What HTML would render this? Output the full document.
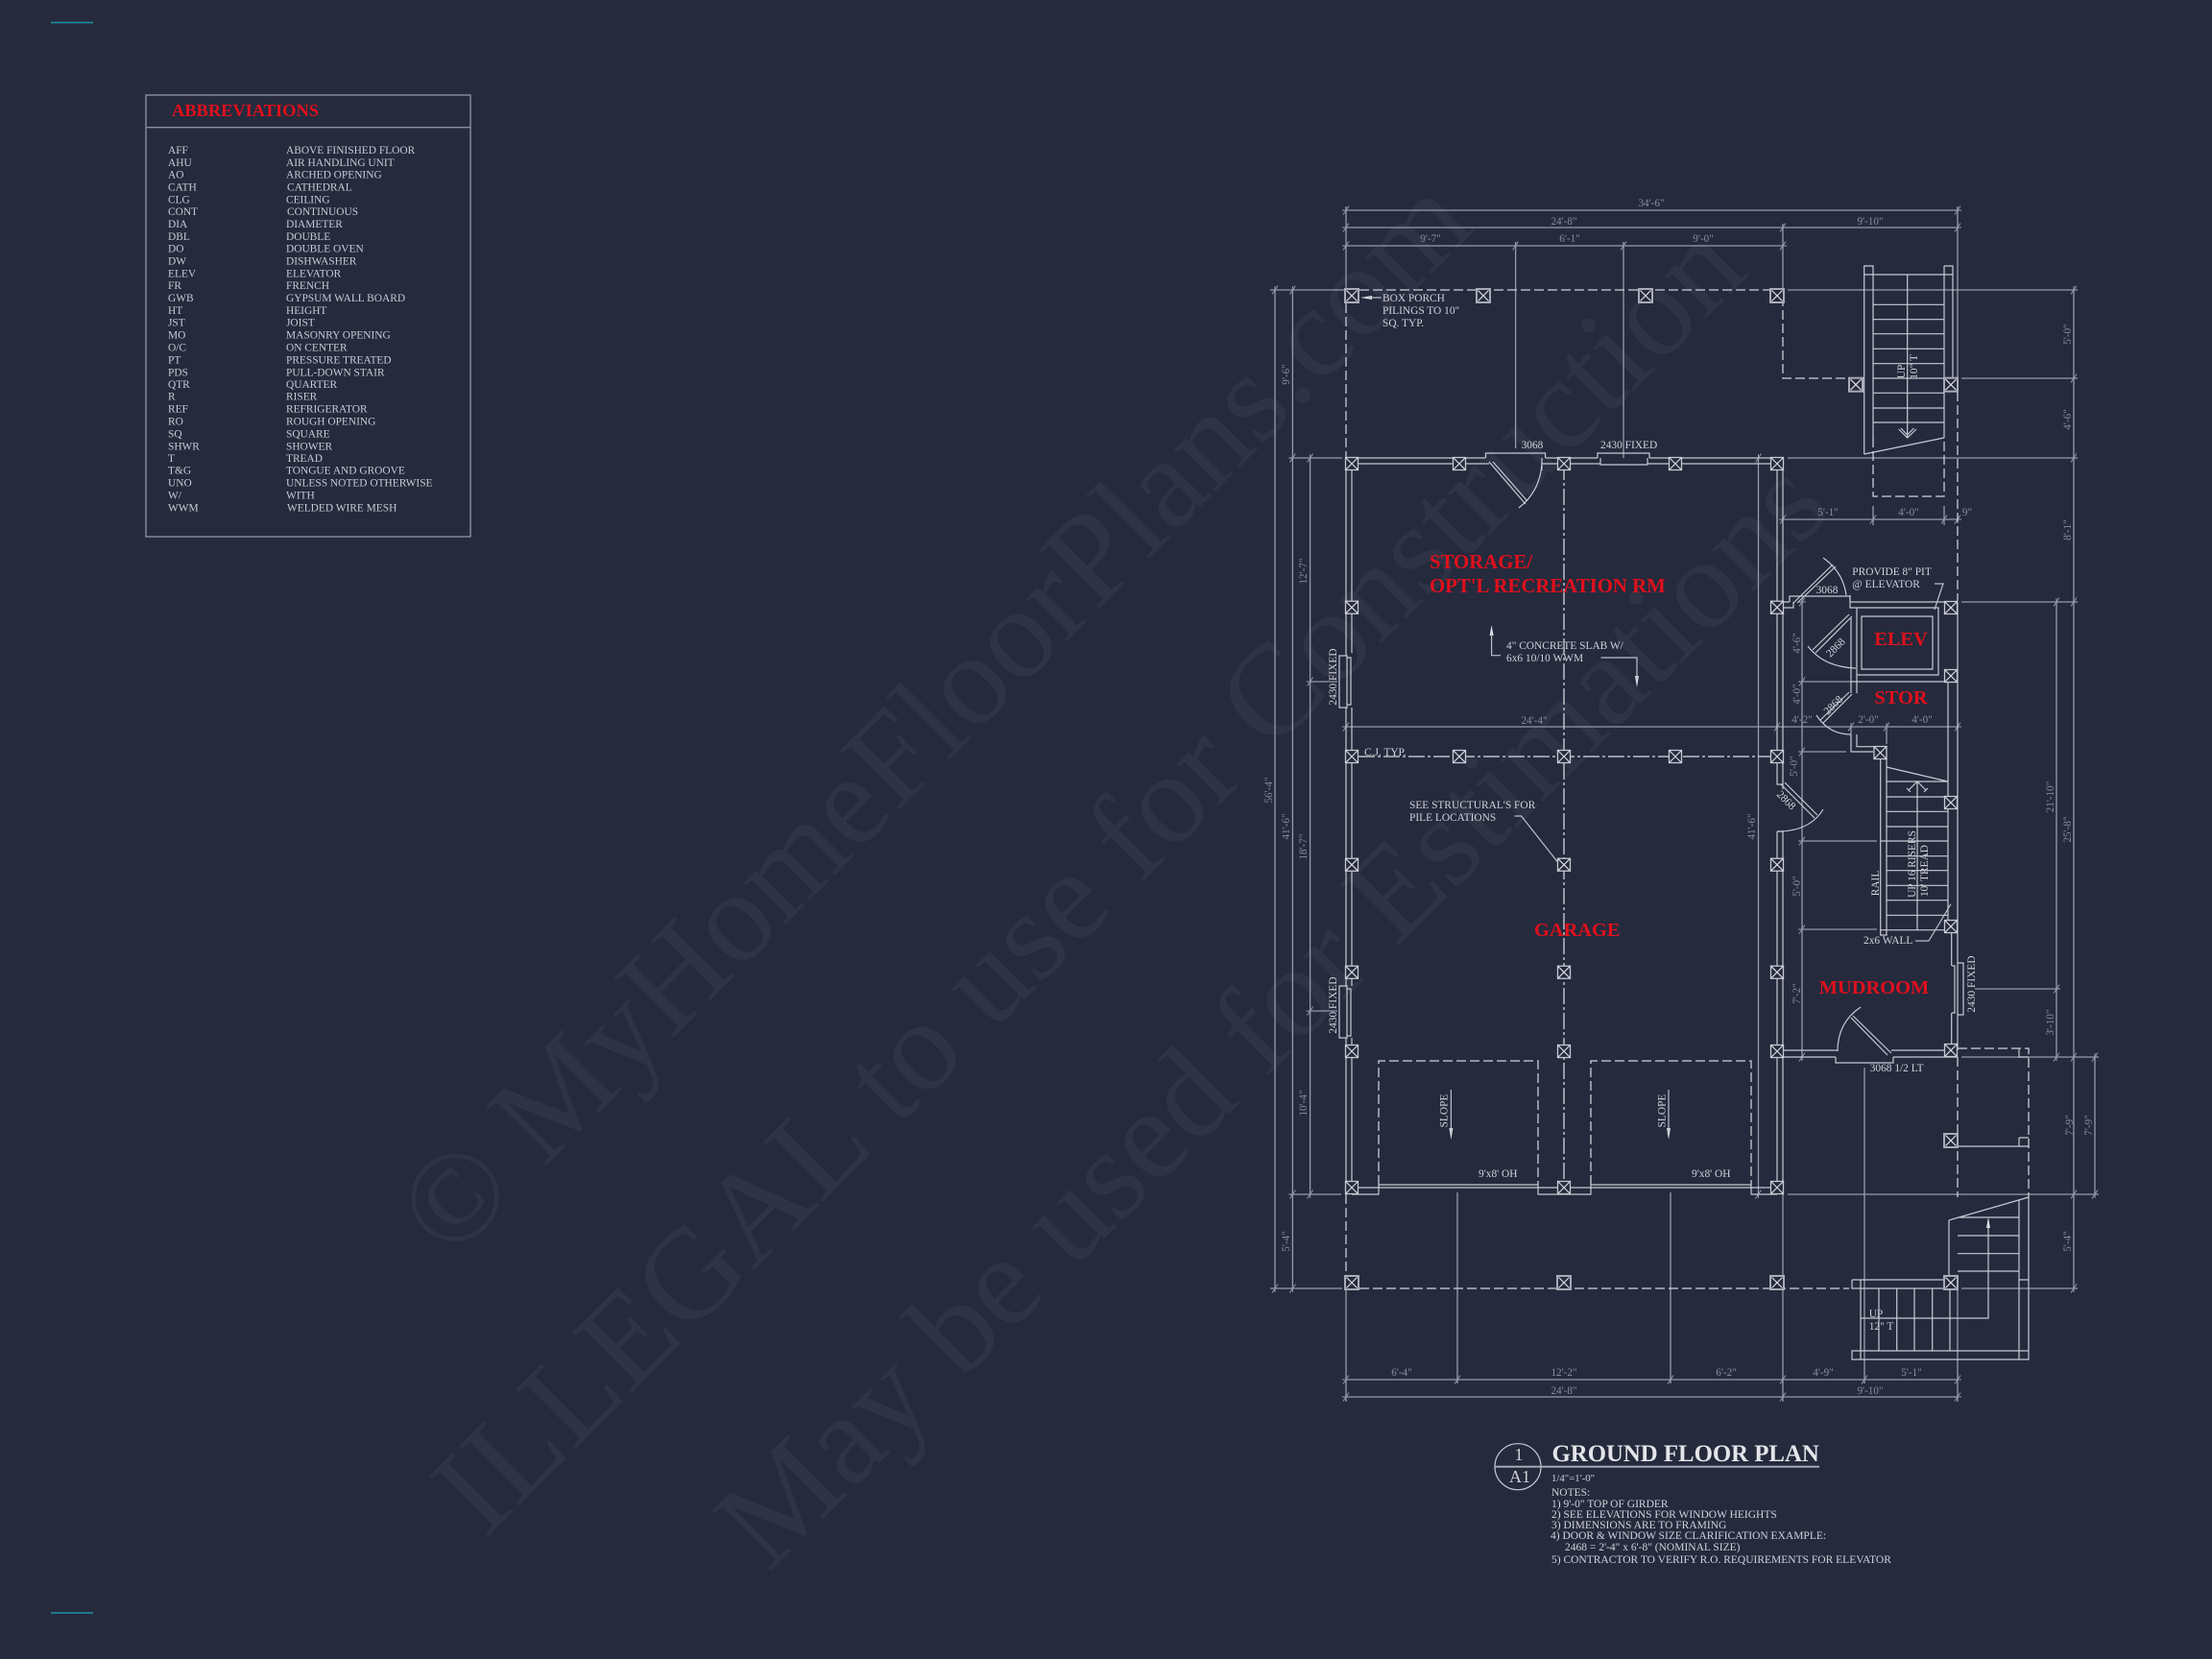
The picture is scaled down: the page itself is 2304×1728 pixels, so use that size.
<!DOCTYPE html>
<html><head><meta charset="utf-8"><title>Ground Floor Plan</title>
<style>
html,body{margin:0;padding:0;background:#252a3d}
svg{display:block}
text{font-family:"Liberation Serif",serif}
.wm{fill:#2f3346;font-size:134px}
.w{fill:none;stroke:#c8cad3;stroke-width:1.2}
.n{fill:none;stroke:#bdbfc9;stroke-width:1.2}
.d{fill:none;stroke:#989baa;stroke-width:1.3}
.da{fill:none;stroke:#d2d3da;stroke-width:1.25;stroke-dasharray:10 4}
.cl{fill:none;stroke:#dcdde3;stroke-width:1.25;stroke-dasharray:17 3 3 3}
.t{fill:#d2d3da;font-size:11.4px}
.dt{fill:#8a8d9a;font-size:11.2px;text-anchor:middle}
.r{fill:#e0101c;font-size:20.4px;font-weight:bold}
.c{text-anchor:middle}
.ab{fill:#c9cbd3;font-size:11.4px}
</style></head><body>
<svg xmlns="http://www.w3.org/2000/svg" width="2304" height="1728" viewBox="0 0 2304 1728">
<defs>
<g id="p"><rect x="-6.5" y="-6.5" width="13" height="13" fill="#252a3d" stroke="#c6c8d1" stroke-width="1.3"/><path d="M-6.5-6.5L6.5 6.5M6.5-6.5L-6.5 6.5" stroke="#d9dae0" stroke-width="1.2"/></g>
<g id="P"><rect x="-7" y="-7" width="14" height="14" fill="#252a3d" stroke="#a9abb7" stroke-width="2"/><path d="M-5.5-5.5L5.5 5.5M5.5-5.5L-5.5 5.5" stroke="#e0e1e6" stroke-width="1.2"/></g>
<path id="t" d="M-3 4.5L3-4.5M0-4V4M-4 0H4" stroke="#989baa" stroke-width="1" fill="none"/>
</defs>
<rect width="2304" height="1728" fill="#252a3d"/>

<!-- watermark -->
<text class="wm" transform="translate(468.7 1315) rotate(-45.2)" textLength="1518" lengthAdjust="spacingAndGlyphs">© MyHomeFloorPlans.com</text>
<text class="wm" transform="translate(505 1603.6) rotate(-45)" textLength="1864" lengthAdjust="spacingAndGlyphs">ILLEGAL to use for Construction</text>
<text class="wm" transform="translate(800 1639) rotate(-44.9)" textLength="1567" lengthAdjust="spacingAndGlyphs">May be used for Estimations</text>

<!-- teal marks -->
<path d="M53 23.5H97M53 1680H97" stroke="#1c95a0" stroke-width="1.4" fill="none"/>

<!-- abbreviations -->
<rect x="152" y="99" width="338" height="460" fill="none" stroke="#8b8ea0" stroke-width="1.4"/>
<path d="M152 132.7H490" stroke="#8b8ea0" stroke-width="1.4"/>
<text x="179" y="121" fill="#e0101c" font-size="18.4" font-weight="bold">ABBREVIATIONS</text>
<g class="ab">
<text x="175" y="160">AFF</text><text x="298" y="160">ABOVE FINISHED FLOOR</text>
<text x="175" y="172.8">AHU</text><text x="298" y="172.8">AIR HANDLING UNIT</text>
<text x="175" y="185.3">AO</text><text x="298" y="185.3">ARCHED OPENING</text>
<text x="175" y="198.3">CATH</text><text x="299" y="198.3">CATHEDRAL</text>
<text x="175" y="211.3">CLG</text><text x="298" y="211.3">CEILING</text>
<text x="175" y="224.2">CONT</text><text x="299" y="224.2">CONTINUOUS</text>
<text x="175" y="237">DIA</text><text x="298" y="237">DIAMETER</text>
<text x="175" y="250">DBL</text><text x="298" y="250">DOUBLE</text>
<text x="175" y="262.5">DO</text><text x="298" y="262.5">DOUBLE OVEN</text>
<text x="175" y="275.3">DW</text><text x="298" y="275.3">DISHWASHER</text>
<text x="175" y="288.3">ELEV</text><text x="298" y="288.3">ELEVATOR</text>
<text x="175" y="301.2">FR</text><text x="298" y="301.2">FRENCH</text>
<text x="175" y="314">GWB</text><text x="298" y="314">GYPSUM WALL BOARD</text>
<text x="175" y="327">HT</text><text x="298" y="327">HEIGHT</text>
<text x="175" y="339.5">JST</text><text x="298" y="339.5">JOIST</text>
<text x="175" y="352.5">MO</text><text x="298" y="352.5">MASONRY OPENING</text>
<text x="175" y="365.5">O/C</text><text x="298" y="365.5">ON CENTER</text>
<text x="175" y="378.3">PT</text><text x="298" y="378.3">PRESSURE TREATED</text>
<text x="175" y="391.3">PDS</text><text x="298" y="391.3">PULL-DOWN STAIR</text>
<text x="175" y="404.2">QTR</text><text x="298" y="404.2">QUARTER</text>
<text x="175" y="416.7">R</text><text x="298" y="416.7">RISER</text>
<text x="175" y="429.5">REF</text><text x="298" y="429.5">REFRIGERATOR</text>
<text x="175" y="442.5">RO</text><text x="298" y="442.5">ROUGH OPENING</text>
<text x="175" y="455.3">SQ</text><text x="298" y="455.3">SQUARE</text>
<text x="175" y="468.3">SHWR</text><text x="298" y="468.3">SHOWER</text>
<text x="175" y="481.2">T</text><text x="298" y="481.2">TREAD</text>
<text x="175" y="493.7">T&amp;G</text><text x="298" y="493.7">TONGUE AND GROOVE</text>
<text x="175" y="506.5">UNO</text><text x="298" y="506.5">UNLESS NOTED OTHERWISE</text>
<text x="175" y="519.5">W/</text><text x="298" y="519.5">WITH</text>
<text x="175" y="532.5">WWM</text><text x="299" y="532.5">WELDED WIRE MESH</text>
</g>

<!-- dimension lines -->
<path class="d" d="M1402 219H2039M1402 237H2039M1402 256H1857
M1402 1437H2039M1402 1455H2039
M1328 302V1342M1346.4 302V1342M1364.6 477V1244
M2160 302V1342M2142 627V1101M2182 1101V1244M1831.5 477V1244M1877 627V1101
M1857 541H2039M1402 757H2039"/>
<!-- extension lines -->
<path class="d" d="M1402 215V302M1578.6 252V467M1691 252V477M1857 233V302M2039 215V394
M1323 302H1400M1343 477H1398M1364.6 710H1393M1364.6 1053H1393M1343 1244H1397M1323 1342H1398
M1862 302H2164M2043 394H2164M1862 477H2164M2043 627H2164M2057 1030H2145M2043 1101H2186M1862 1244H2186M2043 1342H2164
M1951 527V547M2025 527V547M1965 757V775M1928 757V765
M1877 710H1928M1877 783H1923M1877 876H1955M1877 968H1955
M1402 1342V1460M1518 1242V1441M1740 1242V1441M1857 1244V1460M1942 1112V1441M2039 1342V1460"/>
<!-- ticks -->
<g>
<use href="#t" x="1402" y="219"/><use href="#t" x="2039" y="219"/>
<use href="#t" x="1402" y="237"/><use href="#t" x="1857" y="237"/><use href="#t" x="2039" y="237"/>
<use href="#t" x="1402" y="256"/><use href="#t" x="1578.6" y="256"/><use href="#t" x="1691" y="256"/><use href="#t" x="1857" y="256"/>
<use href="#t" x="1402" y="1437"/><use href="#t" x="1518" y="1437"/><use href="#t" x="1740" y="1437"/><use href="#t" x="1857" y="1437"/><use href="#t" x="1942" y="1437"/><use href="#t" x="2039" y="1437"/>
<use href="#t" x="1402" y="1455"/><use href="#t" x="1857" y="1455"/><use href="#t" x="2039" y="1455"/>
<use href="#t" x="1328" y="302"/><use href="#t" x="1346.4" y="302"/><use href="#t" x="1346.4" y="477"/><use href="#t" x="1364.6" y="477"/><use href="#t" x="1364.6" y="710"/><use href="#t" x="1364.6" y="1053"/><use href="#t" x="1364.6" y="1244"/><use href="#t" x="1346.4" y="1244"/><use href="#t" x="1346.4" y="1342"/><use href="#t" x="1328" y="1342"/>
<use href="#t" x="2160" y="302"/><use href="#t" x="2160" y="394"/><use href="#t" x="2160" y="477"/><use href="#t" x="2160" y="627"/><use href="#t" x="2142" y="627"/><use href="#t" x="2142" y="1030"/><use href="#t" x="2142" y="1101"/><use href="#t" x="2160" y="1101"/><use href="#t" x="2182" y="1101"/><use href="#t" x="2182" y="1244"/><use href="#t" x="2160" y="1244"/><use href="#t" x="2160" y="1342"/>
<use href="#t" x="1831.5" y="477"/><use href="#t" x="1831.5" y="1244"/>
<use href="#t" x="1877" y="627"/><use href="#t" x="1877" y="710"/><use href="#t" x="1877" y="783"/><use href="#t" x="1877" y="876"/><use href="#t" x="1877" y="968"/><use href="#t" x="1877" y="1101"/>
<use href="#t" x="1857" y="541"/><use href="#t" x="1951" y="541"/><use href="#t" x="2025" y="541"/><use href="#t" x="2039" y="541"/>
<use href="#t" x="1402" y="757"/><use href="#t" x="1851" y="757"/><use href="#t" x="1928" y="757"/><use href="#t" x="1965" y="757"/><use href="#t" x="2039" y="757"/>
</g>

<!-- dashed porch -->
<path class="da" d="M1402 302H1857V394H1926M1402 302V477M1402 1244V1342H1926M2039 408V626M2039 1101V1247M1951 456V517H2025V456M1436 1234V1105H1602V1234M1657 1234V1105H1824V1234M2039 1092H2113V1247"/>
<!-- centre lines -->
<path class="cl" d="M1629 483V1238M1415 788H1851"/>

<!-- walls -->
<path class="w" d="M1402 477H1547M1610 477H1664M1718 477H1851M1408 483H1551M1606 483H1667M1716 483H1851
M1402 477V683M1408 483V680M1402 737V1027M1408 737V1027M1402 1081V1244M1408 1081V1237
M1408 1244H1436M1408 1237H1436M1436 1234H1602M1436 1237H1602M1602 1234V1244H1657V1234M1602 1237H1657M1657 1234H1824M1657 1237H1824M1824 1234V1244H1851M1824 1237H1851
M1436 1234V1244H1408
M1851 477V817H1857M1857 477V822M1851 866V1244M1857 866V1244M1851 866H1858
M1927 620V627H2039M1864 627H1851M1868 627V633H1851M1927 627V633H1934
M1934 633H2019V703H1934ZM1939 642H2013V697H1939ZM1934 703V710H2029V704M2019 633V703M2029 710V965M1934 695V710H1928V644M1928 710V722M1934 710V722
M1928 765V783H1951M1934 765V777.7H1955
M1958.7 790V974H1965V790M1965 814H2029M1965 830H2029M1965 845.3H2029M1965 861H2029M1965 876H2029M1965 891.7H2029M1965 906.7H2029M1965 922.3H2029M1965 937.7H2029M1965 953.3H2029M1965 968.7H2029M1997 814V968.7M1965 799L2029 814M1958.7 876H1965M1958.7 968.7H1965
M1988 823L1997 814L2006 823M1986 821L1990 825M2008 821L2004 825
M2039 627V1094M2032.7 965V1006M2032.7 1055V1094M2039 1003H2045V1057H2039M2033 1006H2036V1055H2033
M1857 1094H1914M1857 1101H1912M1970 1094H2032M1972 1101H2039M1912 1101V1107H1972V1101
M1395 683H1403V737H1395ZM1395 1027H1403V1081H1395ZM1403 685H1407V734H1403M1403 1030H1407V1079H1403
M1547.5 477V472H1609.6V477M1664 477V472H1718V477M1667 477V484H1716V477M1606 477V490"/>
<!-- doors -->
<path class="w" d="M1551 481L1589 525M1555 481L1591 522M1606 483Q1604 512 1582 529
M1864 627V621H1927V627M1868 628L1909 588M1872 628L1912 590M1923 620Q1920 596 1899 581
M1929 642L1891 680M1926 640L1888 677M1883 673Q1900 695 1933 696
M1929 723L1899 753M1926 721L1896 750M1892 745Q1905 765 1928 765
M1855 817L1890 852M1859 815L1893 849M1851 866Q1885 866 1899 843
M1970 1097L1930 1058M1966 1099L1928 1060M1914 1095Q1914 1065 1938 1049"/>
<!-- upper stair -->
<path class="w" d="M1941.7 473V277H1951V456M2025 277H2034V400M2025 277V456M1941.7 286H2034M1951 317.3H2025M1951 332.7H2025M1951 347.7H2025M1951 363.3H2025M1951 378.7H2025M1951 394H2025M1951 409.3H2025M1951 425H2025M1951 440H2025M1986.7 286V456M1941.7 473L2025 456
M1977.7 447L1986.7 456L1996 447M1980 446L1986.7 453M1993.5 446L1986.7 453"/>
<!-- lower stair -->
<path class="w" d="M2039 1194H2113M2103 1092V1101H2113M2103 1185V1194M2103 1185H2113
M2113 1247V1416H1929V1407H2113M2030 1271L2113 1247M2030 1271V1330M2103 1250V1416M2039 1268H2103M2039 1287H2103M2039 1305.7H2103M2039 1324H2103
M2071 1270V1373H1938M1929 1333H2030M1929 1333V1342H1938M1938 1333V1416M1938 1342H2025M1957 1342V1407M1975.7 1342V1407M1994 1342V1407M2012.7 1342V1407M2031 1342V1407M2103 1333H2113"/>
<path d="M2071 1268l-2 11h4zM1511.4 1187l-2-12h4zM1738 1187l-2-12h4zM1553.6 651l-2 11h4zM1705 716l-2-12h4zM1417 310l12-2v4z" fill="#dfe0e5"/>
<!-- leaders -->
<path class="n" d="M1511.4 1135V1180M1738 1135V1180M1553.6 660V682.7H1563M1667.5 685H1705V708M1425 310H1438.6M1577.5 850H1584.6L1622.5 898M2015 608H2024L2015 635M1995 980H2009L2032 941.7"/>

<!-- piles -->
<g>
<use href="#P" x="1408" y="308"/><use href="#P" x="1545" y="308"/><use href="#P" x="1714" y="308"/><use href="#P" x="1851" y="308"/>
<use href="#P" x="1933" y="400.7"/><use href="#P" x="2032" y="400.7"/>
<use href="#p" x="1408" y="483"/><use href="#p" x="1520" y="483"/><use href="#p" x="1629" y="483"/><use href="#p" x="1745" y="483"/><use href="#p" x="1851" y="483"/>
<use href="#p" x="1408" y="632.7"/><use href="#p" x="1851" y="632.7"/><use href="#p" x="2032" y="633"/><use href="#p" x="2032" y="704"/>
<use href="#p" x="1408" y="788"/><use href="#p" x="1520" y="788"/><use href="#p" x="1629" y="788"/><use href="#p" x="1745" y="788"/><use href="#p" x="1851" y="788"/><use href="#p" x="1958.5" y="784"/>
<use href="#p" x="2032" y="836"/>
<use href="#p" x="1408" y="900.7"/><use href="#p" x="1629" y="900.7"/><use href="#p" x="1851" y="900.7"/><use href="#p" x="2032" y="965"/>
<use href="#p" x="1408" y="1012.7"/><use href="#p" x="1629" y="1012.7"/><use href="#p" x="1851" y="1012.7"/>
<use href="#p" x="1408" y="1095"/><use href="#p" x="1629" y="1095"/><use href="#p" x="1851" y="1095"/><use href="#p" x="2032" y="1094"/>
<use href="#p" x="1408" y="1237"/><use href="#p" x="1629" y="1237"/><use href="#p" x="1851" y="1237"/>
<use href="#P" x="2032" y="1188"/>
<use href="#P" x="1408" y="1336"/><use href="#P" x="1629" y="1336"/><use href="#P" x="1851" y="1336"/><use href="#P" x="2032" y="1336"/>
</g>

<!-- dimension text -->
<g class="dt">
<text x="1720" y="215">34'-6"</text><text x="1629" y="234">24'-8"</text><text x="1948" y="234">9'-10"</text>
<text x="1490" y="252">9'-7"</text><text x="1635" y="252">6'-1"</text><text x="1774" y="252">9'-0"</text>
<text x="1904" y="537">5'-1"</text><text x="1988" y="537">4'-0"</text><text x="2049" y="537">9"</text>
<text x="1598" y="754">24'-4"</text><text x="1877" y="753">4'-2"</text><text x="1946" y="753">2'-0"</text><text x="2002" y="753">4'-0"</text>
<text x="1460" y="1433">6'-4"</text><text x="1629" y="1433">12'-2"</text><text x="1798" y="1433">6'-2"</text><text x="1899" y="1433">4'-9"</text><text x="1991" y="1433">5'-1"</text>
<text x="1629" y="1452">24'-8"</text><text x="1948" y="1452">9'-10"</text>
<text transform="translate(1343 390) rotate(-90)">9'-6"</text>
<text transform="translate(1361 595) rotate(-90)">12'-7"</text>
<text transform="translate(1325 823) rotate(-90)">56'-4"</text>
<text transform="translate(1343 861) rotate(-90)">41'-6"</text>
<text transform="translate(1361 882) rotate(-90)">18'-7"</text>
<text transform="translate(1361 1149) rotate(-90)">10'-4"</text>
<text transform="translate(1343 1293) rotate(-90)">5'-4"</text>
<text transform="translate(2157 348) rotate(-90)">5'-0"</text>
<text transform="translate(2157 437) rotate(-90)">4'-6"</text>
<text transform="translate(2157 552) rotate(-90)">8'-1"</text>
<text transform="translate(2139 830) rotate(-90)">21'-10"</text>
<text transform="translate(2157 864) rotate(-90)">25'-8"</text>
<text transform="translate(2139 1065) rotate(-90)">3'-10"</text>
<text transform="translate(2159 1172) rotate(-90)">7'-9"</text>
<text transform="translate(2179 1172) rotate(-90)">7'-9"</text>
<text transform="translate(2157 1293) rotate(-90)">5'-4"</text>
<text transform="translate(1828 861) rotate(-90)">41'-6"</text>
<text transform="translate(1875 670) rotate(-90)">4'-6"</text>
<text transform="translate(1875 723) rotate(-90)">4'-0"</text>
<text transform="translate(1872 798) rotate(-90)">5'-0"</text>
<text transform="translate(1875 923) rotate(-90)">5'-0"</text>
<text transform="translate(1875 1035) rotate(-90)">7'-2"</text>
</g>

<!-- labels -->
<g class="t">
<text x="1440" y="314">BOX PORCH</text><text x="1440" y="327">PILINGS TO 10"</text><text x="1440" y="340">SQ. TYP.</text>
<text x="1584.6" y="467">3068</text><text x="1667" y="467">2430 FIXED</text>
<text x="1569" y="676">4" CONCRETE SLAB W/</text><text x="1569" y="689">6x6 10/10 WWM</text>
<text x="1421" y="787">C.J. TYP.</text>
<text x="1468" y="842">SEE STRUCTURAL'S FOR</text><text x="1468" y="855">PILE LOCATIONS</text>
<text x="1929.3" y="599">PROVIDE 8" PIT</text><text x="1929.3" y="612">@ ELEVATOR</text>
<text x="1903" y="618" class="c">3068</text>
<text class="c" transform="translate(1914.5 677) rotate(-45)">2868</text>
<text class="c" transform="translate(1912 737) rotate(-45)">2868</text>
<text class="c" transform="translate(1858 836) rotate(45)">2868</text>
<text x="1941" y="983">2x6 WALL</text>
<text x="1947.7" y="1116">3068 1/2 LT</text>
<text x="1540" y="1226">9'x8' OH</text><text x="1762" y="1226">9'x8' OH</text>
<text x="1946.7" y="1372">UP</text><text x="1946.7" y="1385">12" T</text>
<text class="c" transform="translate(1392 705) rotate(-90)">2430 FIXED</text>
<text class="c" transform="translate(1392 1047) rotate(-90)">2430 FIXED</text>
<text class="c" transform="translate(2057 1025) rotate(-90)">2430 FIXED</text>
<text class="c" transform="translate(1984 387) rotate(-90)">UP</text>
<text class="c" transform="translate(1997 382) rotate(-90)">10" T</text>
<text class="c" transform="translate(1957 920) rotate(-90)">RAIL</text>
<text class="c" transform="translate(1995 900) rotate(-90)">UP 16 RISERS</text>
<text class="c" transform="translate(2008 907) rotate(-90)">10' TREAD</text>
<text class="c" transform="translate(1507.5 1157) rotate(-90)">SLOPE</text>
<text class="c" transform="translate(1734.5 1157) rotate(-90)">SLOPE</text>
</g>

<!-- red room labels -->
<g class="r">
<text x="1489" y="592" style="font-size:20.8px">STORAGE/</text>
<text x="1489" y="617" style="font-size:20.8px">OPT'L RECREATION RM</text>
<text x="1598" y="975">GARAGE</text>
<text x="1980" y="672" class="c">ELEV</text>
<text x="1980" y="733" class="c">STOR</text>
<text x="1952" y="1035" class="c">MUDROOM</text>
</g>

<!-- title block -->
<circle cx="1581" cy="1527.7" r="24" fill="none" stroke="#c9cbd3" stroke-width="1.2"/>
<path d="M1557 1527.7H1895" stroke="#aeb0bc" stroke-width="1.8"/>
<text x="1582" y="1521" fill="#d0d1d8" font-size="18" text-anchor="middle">1</text>
<text x="1583" y="1544" fill="#d0d1d8" font-size="18" text-anchor="middle">A1</text>
<text x="1616.5" y="1522" fill="#e4e5ea" font-size="24.8" font-weight="bold">GROUND FLOOR PLAN</text>
<g class="t" style="font-size:11.5px">
<text x="1616" y="1543" style="font-size:10.8px">1/4"=1'-0"</text>
<text x="1616" y="1558">NOTES:</text>
<text x="1616" y="1570">1) 9'-0" TOP OF GIRDER</text>
<text x="1616" y="1581">2) SEE ELEVATIONS FOR WINDOW HEIGHTS</text>
<text x="1616" y="1592">3) DIMENSIONS ARE TO FRAMING</text>
<text x="1615" y="1603">4) DOOR &amp; WINDOW SIZE CLARIFICATION EXAMPLE:</text>
<text x="1630" y="1615">2468 = 2'-4" x 6'-8" (NOMINAL SIZE)</text>
<text x="1616" y="1628">5) CONTRACTOR TO VERIFY R.O. REQUIREMENTS FOR ELEVATOR</text>
</g>
</svg>
</body></html>
